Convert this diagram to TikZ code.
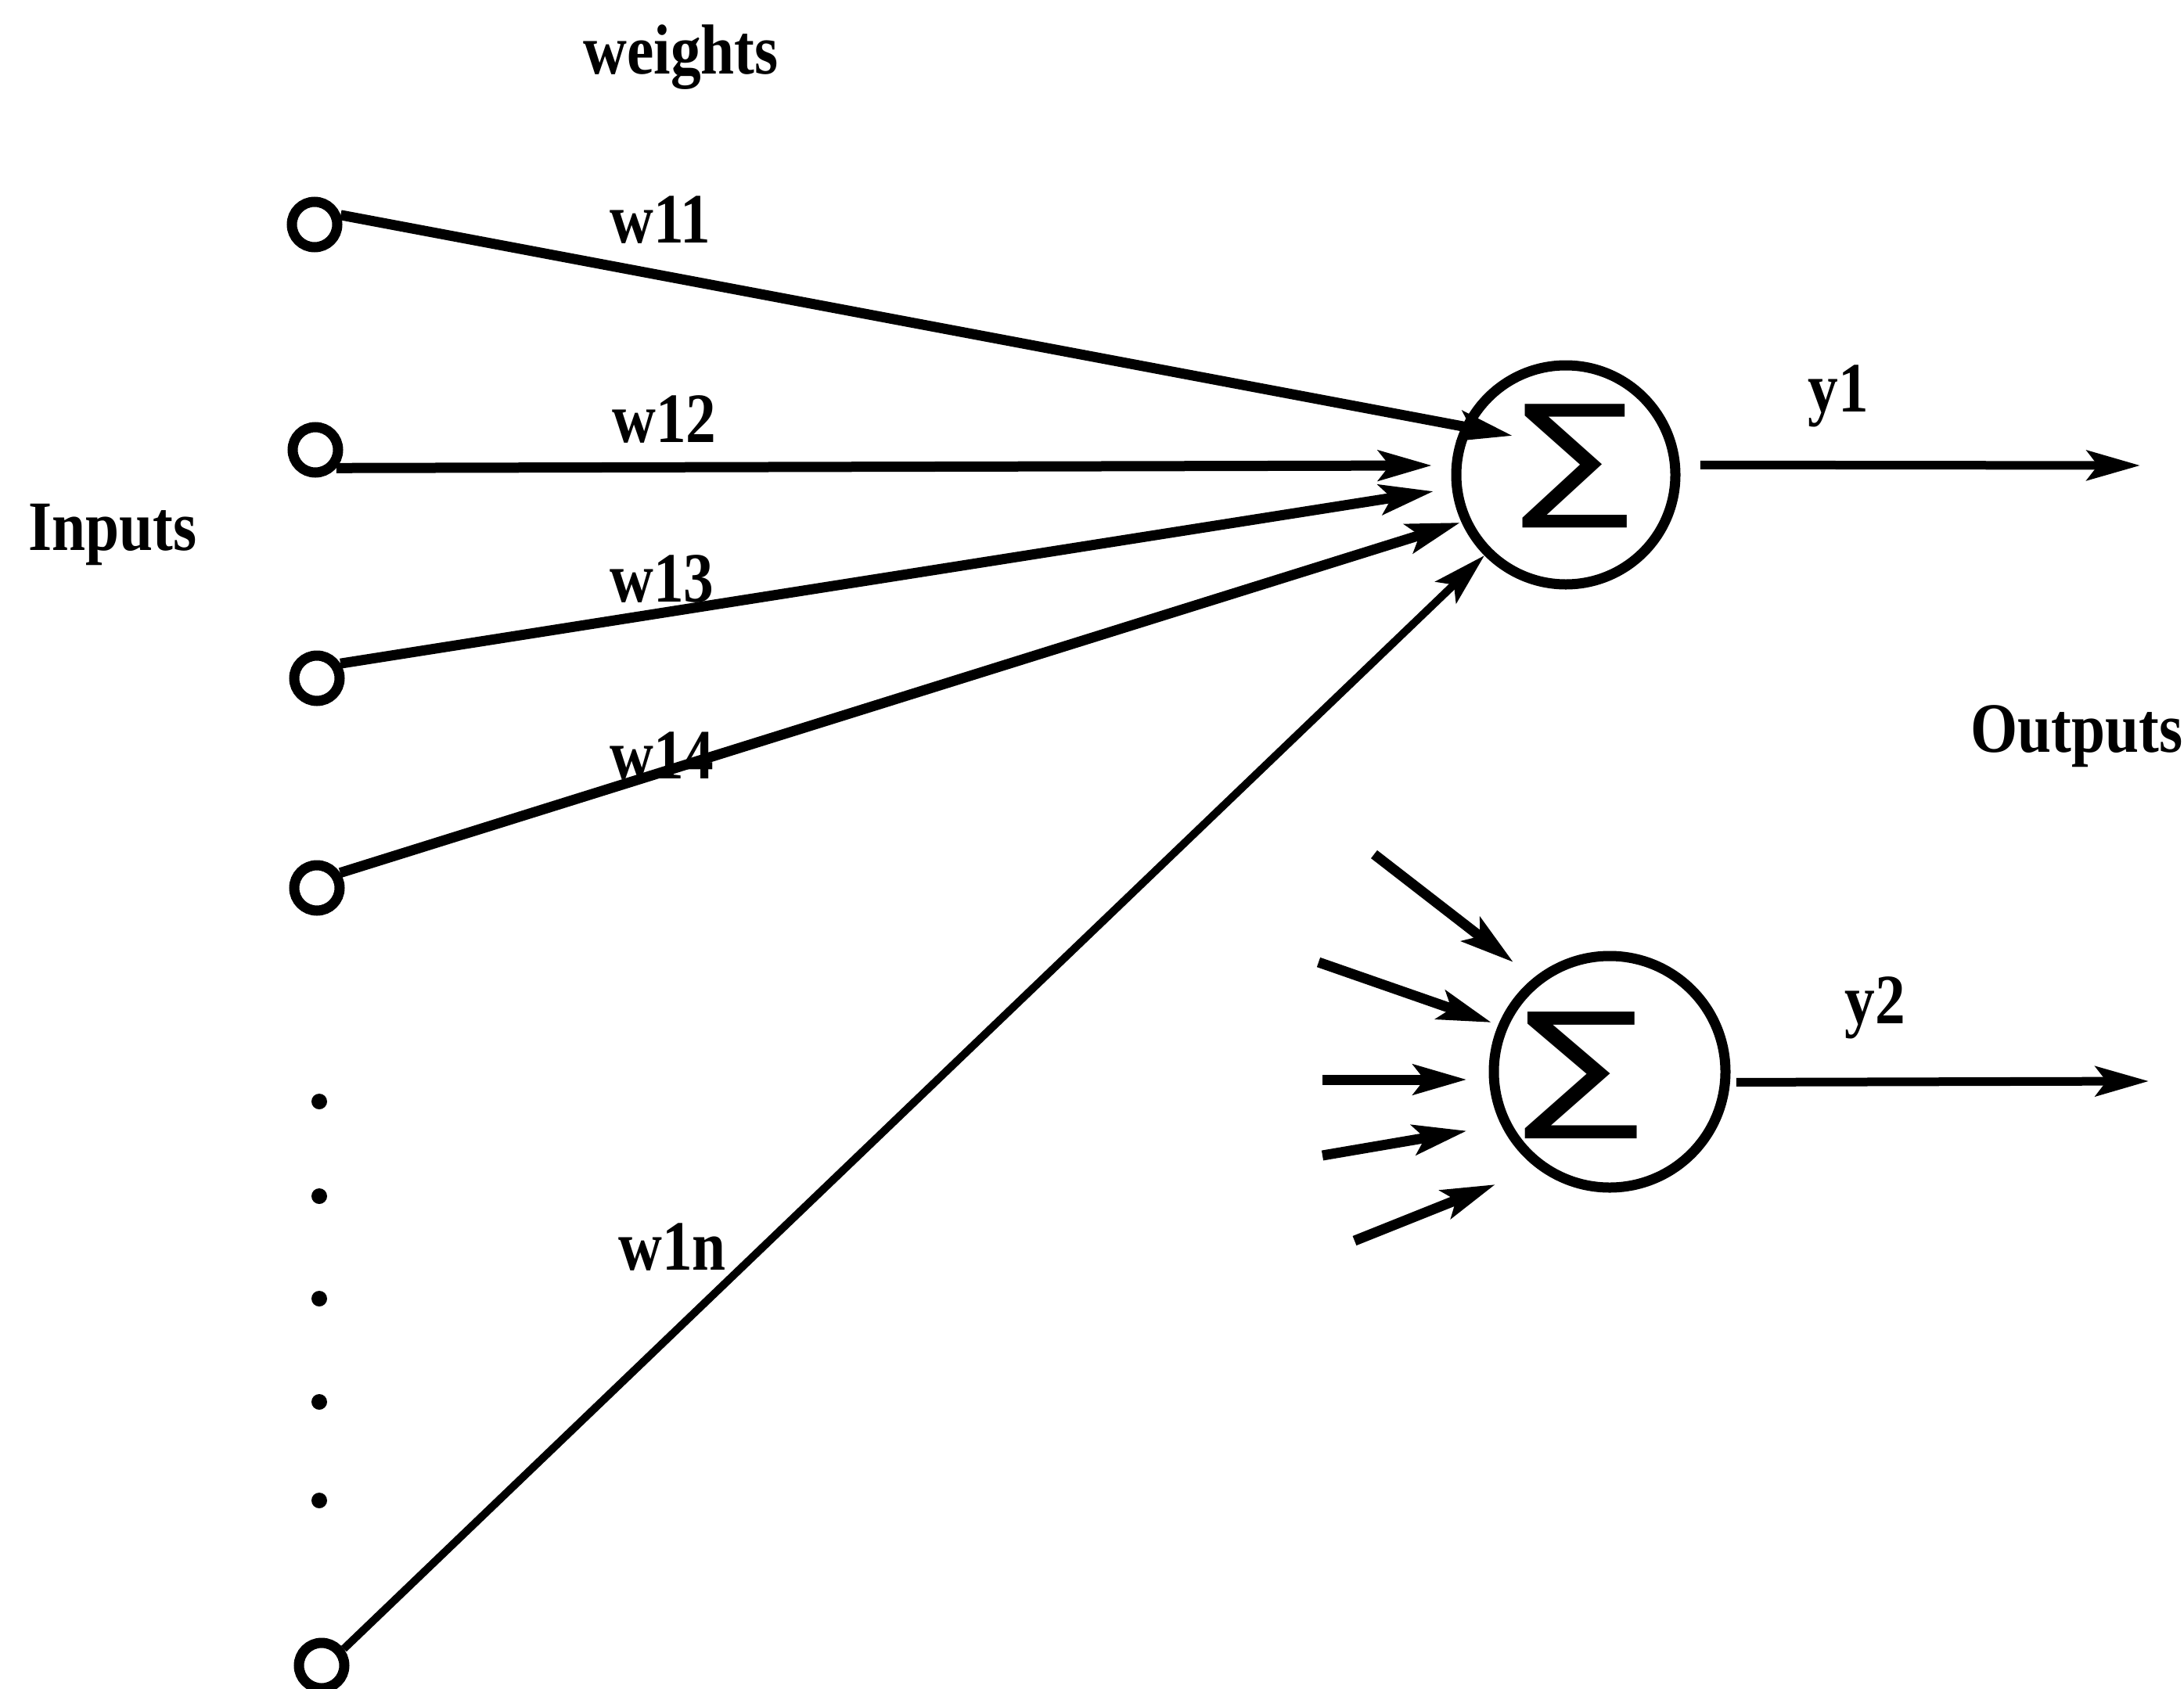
\documentclass[tikz,border=0pt]{standalone}
\usepackage{fontspec}
\setmainfont{Liberation Serif}
\newfontfamily\symfont{DejaVu Sans}
\usepackage{graphicx}
\usetikzlibrary{arrows.meta}
\newcommand{\lbl}[1]{\scalebox{1}[1.17]{\bfseries #1}}
\begin{document}
\begin{tikzpicture}[
  inp/.style={circle, draw, line width=0.13cm, minimum size=0.58cm, inner sep=0pt},
  neuron/.style={circle, draw, line width=0.13cm, inner sep=0pt},
  wire/.style={line width=0.13cm, -{Stealth[length=0.68cm,width=0.38cm,inset=0.14cm]}},
  txt/.style={anchor=base, inner sep=0pt, font=\fontsize{22}{26}\selectfont},
  dotn/.style={circle, fill, inner sep=0pt, minimum size=0.2cm}
]
\useasboundingbox (0,0) rectangle (27.91,-21.59);

% input terminals
\node[inp] (c1) at (4.02,-2.87) {};
\node[inp] (c2) at (4.03,-5.75) {};
\node[inp] (c3) at (4.05,-8.67) {};
\node[inp] (c4) at (4.05,-11.35) {};
\node[inp] (cn) at (4.11,-21.29) {};

% dots
\node[dotn] (d1) at (4.08,-14.08) {};
\node[dotn] (d2) at (4.08,-15.29) {};
\node[dotn] (d3) at (4.08,-16.60) {};
\node[dotn] (d4) at (4.08,-17.92) {};
\node[dotn] (d5) at (4.08,-19.18) {};

% summing neurons
\node[neuron, minimum size=2.80cm] (s1) at (20.01,-6.07) {};
\node[neuron, minimum size=2.96cm] (s2) at (20.57,-13.70) {};
\node[inner sep=0pt] (sig1) at (20.13,-5.96) {\resizebox*{1.40cm}{1.58cm}{\symfont ∑}};
\node[inner sep=0pt] (sig2) at (20.21,-13.75) {\resizebox*{1.50cm}{1.62cm}{\symfont ∑}};

% arrow tips of weighted inputs
\coordinate (t1) at (19.33,-5.57);
\coordinate (t2) at (18.30,-5.95);
\coordinate (t3) at (18.32,-6.28);
\coordinate (t4) at (18.66,-6.68);
\coordinate (tn) at (18.97,-7.10);

\draw[wire] (c1.20) -- (t1);
\draw[wire] (c2.-41) -- (t2);
\draw[wire] (c3.32) -- (t3);
\draw[wire] (c4.33) -- (t4);
\draw[wire, line width=0.1cm] (cn.37) -- (tn);

% inputs of the second neuron
\coordinate (a0) at (17.56,-10.92); \coordinate (a1) at (19.34,-12.30);
\coordinate (b0) at (16.85,-12.30); \coordinate (b1) at (19.06,-13.07);
\coordinate (e0) at (16.90,-13.80); \coordinate (e1) at (18.745,-13.80);
\coordinate (f0) at (16.90,-14.77); \coordinate (f1) at (18.745,-14.455);
\coordinate (g0) at (17.31,-15.86); \coordinate (g1) at (19.11,-15.14);
\draw[wire] (a0) -- (a1);
\draw[wire] (b0) -- (b1);
\draw[wire] (e0) -- (e1);
\draw[wire] (f0) -- (f1);
\draw[wire] (g0) -- (g1);

% outputs
\coordinate (o1) at (27.35,-5.95);
\coordinate (o2) at (27.46,-13.82);
\draw[wire, line width=0.11cm, shorten <=0.26cm] (s1.5) -- (o1);
\draw[wire, line width=0.11cm, shorten <=0.08cm] (s2.-5) -- (o2);

% labels
\node[txt] (lw) at (8.70,-0.95) {\lbl{weights}};
\node[txt] (l11) at (8.44,-3.10) {\lbl{w11}};
\node[txt] (l12) at (8.49,-5.65) {\lbl{w12}};
\node[txt] (l13) at (8.46,-7.69) {\lbl{w13}};
\node[txt] (l14) at (8.46,-9.95) {\lbl{w14}};
\node[txt] (l1n) at (8.59,-16.23) {\lbl{w1n}};
\node[txt] (lin) at (1.44,-7.03) {\lbl{Inputs}};
\node[txt] (ly1) at (23.49,-5.26) {\lbl{y1}};
\node[txt] (ly2) at (23.96,-13.08) {\lbl{y2}};
\node[txt] (lout) at (26.54,-9.61) {\lbl{Outputs}};
\end{tikzpicture}
\end{document}
